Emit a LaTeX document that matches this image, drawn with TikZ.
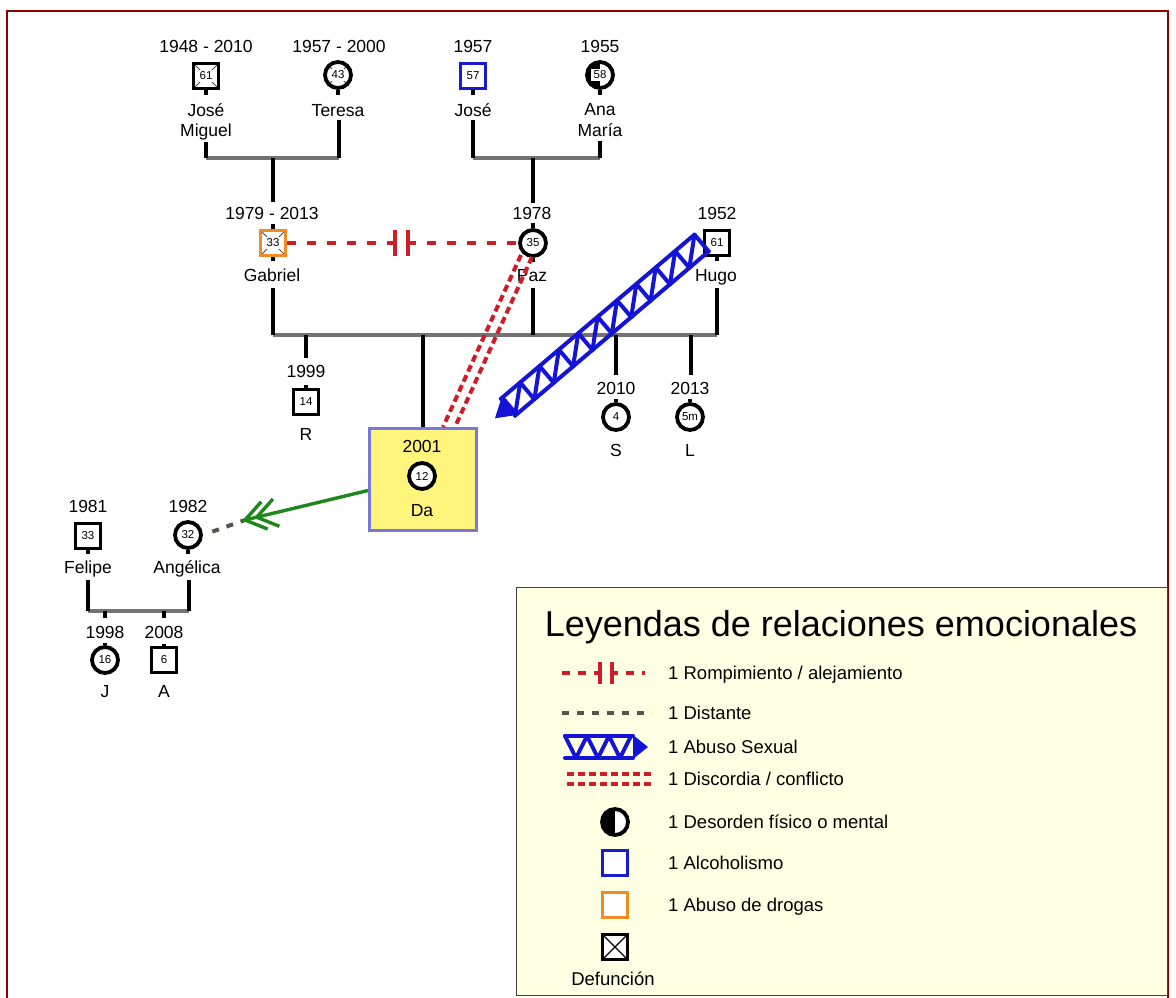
\documentclass[tikz,border=0pt]{standalone}
\usepackage{fontspec}
\setmainfont{Liberation Sans}
\usetikzlibrary{calc}
\definecolor{frameRed}{RGB}{139,0,0}
\definecolor{relRed}{RGB}{205,30,40}
\definecolor{abuseBlue}{RGB}{20,20,215}
\definecolor{alcBlue}{RGB}{25,25,205}
\definecolor{drugOrange}{RGB}{240,140,35}
\definecolor{famGray}{RGB}{115,115,115}
\definecolor{distGray}{RGB}{85,85,80}
\definecolor{daFill}{RGB}{255,245,125}
\definecolor{daBorder}{RGB}{120,120,220}
\definecolor{legFill}{RGB}{255,255,228}
\definecolor{greenRel}{RGB}{30,135,30}
\newcommand{\agebox}[1]{{\setlength{\fboxsep}{2.2pt}\colorbox{white}{#1}}}
\tikzset{
  person/.style={draw=black, line width=3.8pt, inner sep=0pt, fill=white,
    font=\fontsize{11.5}{12}\selectfont},
  male/.style={person, rectangle, minimum size=25pt},
  female/.style={person, circle, minimum size=26pt},
  deceased/.style={path picture={\draw[line width=0.8pt, black!70]
      (path picture bounding box.north west) -- (path picture bounding box.south east)
      (path picture bounding box.north east) -- (path picture bounding box.south west);}},
  disorder/.style={path picture={\fill[black]
      (path picture bounding box.south west) rectangle (path picture bounding box.north);}},
  lbl/.style={font=\fontsize{17.5}{20}\selectfont, inner sep=0pt, anchor=base},
  kin/.style={line width=3.6pt, black},
  famline/.style={line width=4pt, famGray},
  rompe/.style={line width=4pt, relRed, dash pattern=on 9pt off 11pt},
  relbar/.style={line width=4pt, relRed},
  discord/.style={line width=4pt, relRed, dash pattern=on 7pt off 4pt},
  abuse/.style={line width=4pt, abuseBlue, line join=round, line cap=round},
  distant/.style={line width=4pt, distGray, dash pattern=on 7pt off 8pt},
  focus/.style={line width=3.4pt, greenRel},
  legtxt/.style={font=\fontsize{18.5}{22}\selectfont, inner sep=0pt, anchor=base west},
}
\begin{document}
\begin{tikzpicture}[x=1pt,y=-1pt]
\useasboundingbox (0,0) rectangle (1176,997);
\fill[white] (0,0) rectangle (1176,997);
% frame
\draw[frameRed, line width=2.2pt] (7,1000) -- (7,11) -- (1168,11) -- (1168,1000);

% ---------- grandparents ----------
\node[male, deceased] (jm) at (206,76) {\agebox{61}};
\node[lbl] (jmY) at (206,52) {1948 - 2010};
\node[lbl] (jmN1) at (206,116) {José};
\node[lbl] (jmN2) at (206,136) {Miguel};

\node[female, deceased] (te) at (338,75) {\agebox{43}};
\node[lbl] (teY) at (339,52) {1957 - 2000};
\node[lbl] (teN) at (338,116) {Teresa};

\node[male, draw=alcBlue] (jo) at (473,76) {57};
\node[lbl] (joY) at (473,52) {1957};
\node[lbl] (joN) at (473,116) {José};

\node[female, disorder] (am) at (600,75) {\agebox{58}};
\node[lbl] (amY) at (600,52) {1955};
\node[lbl] (amN1) at (600,115) {Ana};
\node[lbl] (amN2) at (600,136) {María};

\foreach \p in {jm,te,jo,am} \draw[kin] (\p.south) -- ++(0,5);

\coordinate (m1L) at (206,158);
\coordinate (m1R) at (339,158);
\coordinate (m1C) at (273,158);
\coordinate (m2L) at (473,158);
\coordinate (m2R) at (600,158);
\coordinate (m2C) at (533,158);
\draw[famline] (m1L) -- (m1R);
\draw[famline] (m2L) -- (m2R);
\draw[kin] (m1L) -- ++(0,-16);
\draw[kin] (m1R) -- ++(0,-38);
\draw[kin] (m1C) -- ++(0,44);
\draw[kin] (m2L) -- ++(0,-38);
\draw[kin] (m2R) -- ++(0,-17);
\draw[kin] (m2C) -- ++(0,45);

% ---------- parents ----------
\node[male, deceased, draw=drugOrange] (gab) at (273,243) {\agebox{33}};
\node[lbl] (gabY) at (272,219) {1979 - 2013};
\node[lbl] (gabN) at (272,281) {Gabriel};

\node[female] (paz) at (533,243) {35};
\node[lbl] (pazY) at (532,219) {1978};
\node[lbl] (pazN) at (532,281) {Paz};

\node[male] (hugo) at (717,243) {61};
\node[lbl] (hugoY) at (717,219) {1952};
\node[lbl] (hugoN) at (716,281) {Hugo};

\draw[kin] (gab.north) -- ++(0,-5);
\draw[kin] (paz.north) -- ++(0,-5);
\foreach \p in {gab,paz,hugo} \draw[kin] (\p.south) -- ++(0,4);

\coordinate (m3L) at (273,335);
\coordinate (m3M) at (533,335);
\coordinate (m3R) at (717,335);
\draw[famline] (m3L) -- (m3R);
\draw[kin] (m3L) -- ++(0,-47);
\draw[kin] (m3M) -- ++(0,-47);
\draw[kin] (m3R) -- ++(0,-47);

% ---------- children ----------
\node[male] (r) at (306,402) {14};
\node[lbl] (rY) at (306,377) {1999};
\node[lbl] (rN) at (306,440) {R};
\coordinate (cR) at (306,335);
\draw[kin] (cR) -- ++(0,23);
\draw[kin] (r.north) -- ++(0,-3);

\node[draw=daBorder, line width=3pt, fill=daFill, minimum width=107pt,
      minimum height=102pt, inner sep=0pt] (dabox) at (423,479.5) {};
\node[lbl] (daY) at (422,452) {2001};
\node[female] (da) at (422,476) {12};
\node[lbl] (daN) at (422,516) {Da};
\coordinate (cDa) at (423,335);
\draw[kin] (cDa) -- (dabox.north);

\node[female] (s) at (616,417) {4};
\node[lbl] (sY) at (616,394) {2010};
\node[lbl] (sN) at (616,456) {S};
\coordinate (cS) at (616,335);
\draw[kin] (cS) -- ++(0,40);
\draw[kin] (s.north) -- ++(0,-3);

\node[female] (l) at (690,417) {5m};
\node[lbl] (lY) at (690,394) {2013};
\node[lbl] (lN) at (690,456) {L};
\coordinate (cL) at (691,335);
\draw[kin] (cL) -- ++(0,40);
\draw[kin] (l.north) -- ++(0,-3);

% ---------- Felipe / Angelica ----------
\node[male] (fe) at (88,536) {33};
\node[lbl] (feY) at (88,512) {1981};
\node[lbl] (feN) at (88,573) {Felipe};
\node[female] (an) at (188,535) {32};
\node[lbl] (anY) at (188,512) {1982};
\node[lbl] (anN) at (187,573) {Angélica};
\draw[kin] (fe.south) -- ++(0,4);
\draw[kin] (an.south) -- ++(0,4);
\coordinate (m4L) at (88,611);
\coordinate (m4R) at (189,611);
\draw[famline, line width=3.4pt] (m4L) -- (m4R);
\draw[kin, line width=3.2pt] (m4L) -- ++(0,-31);
\draw[kin, line width=3.2pt] (m4R) -- ++(0,-31);

\node[female] (j) at (105,660) {16};
\node[lbl] (jY) at (105,638) {1998};
\node[lbl] (jN) at (105,697) {J};
\node[male] (a) at (164,660) {6};
\node[lbl] (aY) at (164,638) {2008};
\node[lbl] (aN) at (164,697) {A};
\coordinate (cJ) at (105,611);
\coordinate (cA) at (164,611);
\draw[kin, line width=3.2pt] (cJ) -- ++(0,7);
\draw[kin, line width=3.2pt] (cA) -- ++(0,7);
\draw[kin] (j.north) -- ++(0,-2);
\draw[kin] (a.north) -- ++(0,-2);

% ---------- emotional relations ----------
% rompimiento Gabriel - Paz
\draw[rompe] (gab.east) -- (paz.west);
\coordinate (rb) at ($(gab.east)!0.5!(paz.west)$);
\draw[relbar] ($(rb)+(-8,-13)$) -- ($(rb)+(-8,13)$);
\draw[relbar] ($(rb)+(5,-13)$) -- ($(rb)+(5,13)$);

% discordia Paz - Da
\draw[discord] ($(paz.center)+(-12,12)$) -- ($(dabox.north)+(20,0)$);
\draw[discord] ($(paz.center)+(-1,14)$) -- ($(dabox.north)+(32,0)$);

% abuso sexual Hugo -> Da
\coordinate (abS) at ($(hugo.west)+(-1,0)$);
\coordinate (abE) at (494,418);
\begin{scope}[shift={(abS)}, rotate=220.3]
  \draw[abuse] (0,-11) -- (254,-11) (0,11) -- (254,11);
  \foreach \k in {0,...,9} {
    \draw[abuse] (\k*25.4,-11) -- (\k*25.4,11) -- (\k*25.4+25.4,-11);
  }
  \fill[abuseBlue] (250,-13) -- (271,0) -- (250,13) -- cycle;
\end{scope}

% distante Angelica - Da and focus arrow Da -> Angelica
\coordinate (gTip) at (245,520);
\draw[distant, shorten <=10pt] (an.east) -- (gTip);
\draw[focus] ($(dabox.west)+(0,11)$) -- (gTip);
\begin{scope}[shift={(gTip)}, rotate=193.3]
  \draw[focus] (-20,14) -- (0,0) -- (-20,-14);
  \draw[focus] (-32,14) -- (-12,0) -- (-32,-14);
\end{scope}

% ---------- legend ----------
\node[draw=black!75, line width=1.5pt, fill=legFill, minimum width=651pt,
      minimum height=408pt, anchor=north west, inner sep=0pt] (legbox) at (515.5,586.5) {};
\node[font=\fontsize{36}{40}\selectfont, inner sep=0pt, anchor=base] (legT)
      at (841,636) {Leyendas de relaciones emocionales};

% row 1 rompimiento
\coordinate (l1a) at (562,673);
\coordinate (l1b) at (645,673);
\draw[rompe, dash pattern=on 8pt off 8pt] (l1a) -- (l1b);
\draw[relbar] ($(l1a)+(38,-11)$) -- ($(l1a)+(38,11)$);
\draw[relbar] ($(l1a)+(50,-11)$) -- ($(l1a)+(50,11)$);
\node[legtxt] (t1) at (668,679.6) {1 Rompimiento / alejamiento};

% row 2 distante
\coordinate (l2a) at (562,713);
\coordinate (l2b) at (652,713);
\draw[distant] (l2a) -- (l2b);
\node[legtxt] (t2) at (668,719.6) {1 Distante};

% row 3 abuso sexual
\coordinate (l3a) at (565,747);
\begin{scope}[shift={(l3a)}]
  \draw[abuse] (0,-11) -- (68,-11) (0,11) -- (68,11);
  \draw[abuse] (0,-11) -- (11,11) -- (22,-11) -- (33,11) -- (44,-11) -- (55,11) -- (66,-11);
  \fill[abuseBlue] (68,-12) -- (83,0) -- (68,12) -- cycle;
\end{scope}
\node[legtxt] (t3) at (668,753.6) {1 Abuso Sexual};

% row 4 discordia
\coordinate (l4a) at (567,773.5);
\coordinate (l4b) at (652,773.5);
\coordinate (l4c) at (567,784);
\coordinate (l4d) at (652,784);
\draw[discord] (l4a) -- (l4b);
\draw[discord] (l4c) -- (l4d);
\node[legtxt] (t4) at (668,785) {1 Discordia / conflicto};

% row 5-8 symbols
\node[female, disorder, minimum size=26pt] (ls5) at (615,822) {};
\node[legtxt] (t5) at (668,828.6) {1 Desorden físico o mental};
\node[male, draw=alcBlue, minimum size=25pt] (ls6) at (615,863) {};
\node[legtxt] (t6) at (668,869.6) {1 Alcoholismo};
\node[male, draw=drugOrange, minimum size=25pt] (ls7) at (615,905) {};
\node[legtxt] (t7) at (668,911.6) {1 Abuso de drogas};
\node[male, minimum size=25pt, path picture={\draw[line width=1.2pt]
      (path picture bounding box.north west) -- (path picture bounding box.south east)
      (path picture bounding box.north east) -- (path picture bounding box.south west);}]
      (ls8) at (615,947) {};
\node[font=\fontsize{18.5}{22}\selectfont, inner sep=0pt, anchor=base] (t8) at (613,985) {Defunción};
\end{tikzpicture}
\end{document}
